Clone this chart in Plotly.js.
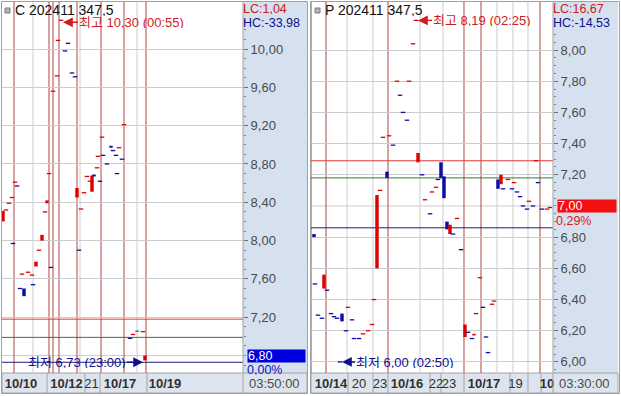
<!DOCTYPE html>
<html><head><meta charset="utf-8">
<script src="https://cdn.plot.ly/plotly-3.0.1.min.js"></script>
<style>html,body{margin:0;padding:0;background:#fff}#chart{width:621px;height:396px}</style>
</head><body><div id="chart"></div>
<script>
// ---------- Left panel: C 202411 347,5 ----------
const leftX     = [0.33,1.33,2.33,3.33,3.67,4.33,5.0,6.0,6.67,7.33,8.67,10.0,10.33,11.33,12.33,13.33,14.33,15.0,15.67,16.33,17.0,18.33,18.67,19.67,21.0,22.0,23.33,24.33,25.0,25.67,26.33,27.33,28.33,29.33,30.0,30.67,31.67,32.0,32.67,33.33,33.67,35.0,36.33,37.0,38.0,38.33,39.0,40.0,40.67,42.67,43.67,45.0,47.0,47.67];
const leftOpen  = [8.20,8.32,8.39,8.45,7.97,8.61,8.57,7.50,7.65,7.50,7.67,7.64,7.54,7.73,7.90,8.00,8.30,8.39,8.70,7.72,9.56,9.72,10.09,10.30,9.98,10.06,9.75,9.71,8.45,7.90,8.33,8.50,8.67,8.62,8.51,8.69,8.76,8.88,8.62,9.08,8.89,8.80,8.99,8.94,8.89,8.70,8.97,8.85,9.21,6.98,7.02,7.06,7.05,6.75];
const leftClose = [8.31,8.32,8.39,8.45,7.97,8.61,8.57,7.50,7.65,7.42,7.67,7.64,7.54,7.78,7.90,8.06,8.30,8.42,8.70,7.72,9.56,9.72,10.09,10.30,9.98,10.06,9.75,9.71,8.55,7.90,8.33,8.50,8.67,8.62,8.68,8.67,8.76,8.88,8.62,9.08,8.89,8.80,8.97,8.94,8.89,8.70,8.97,8.85,9.21,6.98,7.02,7.05,7.05,6.80];
const leftDir   = [1,1,1,1,-1,1,-1,-1,1,-1,1,1,-1,1,1,1,1,1,1,-1,1,1,1,1,-1,-1,-1,-1,1,-1,1,1,1,1,1,-1,1,1,-1,1,-1,-1,-1,-1,-1,-1,1,-1,1,-1,1,-1,1,1];
const leftTickPos  = [6.33,21.5,29.83,39.33,54.33];
const leftTickText = ['<b>10/10</b>','<b>10/12</b>','21','<b>10/17</b>','<b>10/19</b>'];
const leftYTicks   = [7.2,7.6,8.0,8.4,8.8,9.2,9.6,10.0];
const leftHiddenGrid = [6.8];
const leftRedV  = [4,15.67,17,19,25,33,40.67,48];
const leftGridV = [10.33,26,45];
const leftSep   = [15,27.67,32.67,48.33];
const leftHLines = [7.18,6.99,6.73];

// ---------- Right panel: P 202411 347,5 ----------
const rightX     = [1.0,1.33,2.33,3.67,4.33,5.33,6.67,7.67,8.67,9.67,10.33,11.67,12.33,13.67,14.33,16.0,17.33,19.0,20.33,21.0,22.0,23.0,24.0,25.33,26.0,27.33,28.67,29.67,30.67,32.0,32.67,34.0,35.0,35.67,37.0,38.0,39.67,40.33,41.67,42.33,43.33,44.33,45.33,46.33,47.33,48.67,50.0,51.33,52.33,53.67,54.33,55.0,56.33,57.33,58.33,59.0,60.33,61.0,62.33,63.33,64.0,65.67,67.0,67.67,68.67,69.67,70.67,72.0,72.67,74.0,75.0,75.67,77.0,78.67,79.67];
const rightOpen  = [6.82,6.50,6.30,6.28,6.47,6.46,6.31,6.29,6.28,6.00,6.31,6.20,6.35,6.27,6.15,6.15,6.18,6.20,6.24,6.40,6.60,7.10,7.44,7.22,7.45,7.39,7.80,7.71,7.60,7.55,7.80,8.04,8.19,7.28,7.20,7.04,6.95,7.09,7.12,7.17,7.28,7.19,6.90,6.82,6.82,6.92,6.72,6.16,6.19,6.15,6.17,6.31,6.54,6.35,6.16,6.06,6.37,6.39,7.17,7.14,7.11,7.17,7.11,7.15,7.09,7.06,7.00,6.98,7.03,7.00,7.29,7.15,6.98,6.98,6.99];
const rightClose = [6.80,6.50,6.30,6.28,6.56,6.46,6.31,6.29,6.28,6.00,6.26,6.20,6.35,6.27,6.15,6.15,6.18,6.20,6.24,6.40,7.07,7.10,7.44,7.18,7.45,7.39,7.80,7.71,7.60,7.55,7.80,8.04,8.19,7.34,7.20,7.04,6.95,7.09,7.12,7.17,7.18,7.05,6.85,6.88,6.82,6.92,6.72,6.24,6.19,6.15,6.18,6.31,6.54,6.35,6.16,6.06,6.37,6.39,7.11,7.20,7.11,7.17,7.11,7.15,7.09,7.06,7.00,6.98,7.03,7.00,7.29,7.15,6.98,6.98,6.99];
const rightDir   = [-1,-1,-1,-1,1,-1,-1,-1,-1,-1,-1,-1,1,-1,-1,-1,1,1,1,1,1,1,1,-1,1,-1,1,-1,-1,-1,1,1,1,1,-1,1,-1,1,1,-1,-1,-1,-1,1,-1,1,-1,1,-1,-1,1,1,1,-1,-1,-1,1,1,-1,1,-1,1,-1,1,-1,-1,-1,-1,1,-1,1,-1,-1,1,1];
const rightTickPos  = [6.67,16,23,32,41.67,46,57.67,68.17,78.67];
const rightTickText = ['<b>10/14</b>','20','23','<b>10/16</b>','22','23','<b>10/17</b>','19','<b>10</b>'];
const rightYTicks   = [6.0,6.2,6.4,6.6,6.8,7.2,7.4,7.6,7.8,8.0];
const rightHiddenGrid = [7.0];
const rightRedV  = [0,5,25.67,51,56.67,76.33];
const rightGridV = [12,20.67,36.33,44,62,67.33,72.33];
const rightSep   = [12.33,20.67,25.67,39.67,43.33,51,66.33,72.33,76.67];
const rightHLines = [7.29,7.18,6.86];

const hLineColors = ['#e03a3a','#2f7d2f','#1c1c80'];
const UP = '#e00000', DOWN = '#0c0ca8', RED_V = '#b04444', GRID = '#cdcdcd';
const W = 621, H = 396;
const px = v => v / W, py = v => 1 - v / H;
const FONT = 'Liberation Sans, Arial, Noto Sans CJK KR, sans-serif';

function candleTraces(xs, os, cs, dirs, xa, ya) {
  const bx = [], bb = [], bh = [], bc = [], dx = [], dy = [], dc = [];
  xs.forEach((x, i) => {
    const col = dirs[i] > 0 ? UP : DOWN;
    if (os[i] !== cs[i]) { bx.push(x); bb.push(Math.min(os[i], cs[i])); bh.push(Math.abs(cs[i] - os[i])); bc.push(col); }
    else { dx.push(x); dy.push(cs[i]); dc.push(col); }
  });
  return [
    {type:'bar', x:bx, y:bh, base:bb, width:1.15, marker:{color:bc, line:{width:0}}, xaxis:xa, yaxis:ya, hoverinfo:'skip', showlegend:false},
    {type:'scatter', mode:'markers', x:dx, y:dy, marker:{symbol:'line-ew', size:3.2, color:dc, line:{width:1.3, color:dc}}, xaxis:xa, yaxis:ya, hoverinfo:'skip', showlegend:false, cliponaxis:false}
  ];
}

const data = [
  ...candleTraces(leftX, leftOpen, leftClose, leftDir, 'x', 'y'),
  ...candleTraces(rightX, rightOpen, rightClose, rightDir, 'x2', 'y2')
];

const shapes = [];
shapes.push({type:'rect', xref:'paper', yref:'paper', x0:px(243), x1:px(307), y0:py(373), y1:py(2), fillcolor:'#d5e1ef', line:{width:0}, layer:'below'});
shapes.push({type:'rect', xref:'paper', yref:'paper', x0:px(553), x1:px(618), y0:py(373), y1:py(2), fillcolor:'#d5e1ef', line:{width:0}, layer:'below'});
shapes.push({type:'rect', xref:'paper', yref:'paper', x0:px(2), x1:px(307), y0:py(393), y1:py(373), fillcolor:'#dde4ed', line:{width:1, color:'#a4a4a4'}, layer:'below'});
shapes.push({type:'rect', xref:'paper', yref:'paper', x0:px(311), x1:px(618), y0:py(393), y1:py(373), fillcolor:'#dde4ed', line:{width:1, color:'#a4a4a4'}, layer:'below'});

function addPanel(xa, ya, redV, gridV, sep, hl, hiddenGrid) {
  hiddenGrid.forEach(v => shapes.push({type:'line', xref:xa + ' domain', yref:ya, x0:0, x1:1, y0:v, y1:v, line:{color:GRID, width:1}, layer:'below'}));
  gridV.forEach(v => shapes.push({type:'line', xref:xa, yref:ya + ' domain', x0:v, x1:v, y0:0, y1:1, line:{color:GRID, width:1}, layer:'below'}));
  redV.forEach(v => shapes.push({type:'line', xref:xa, yref:ya + ' domain', x0:v, x1:v, y0:0, y1:1, line:{color:RED_V, width:1}, layer:'below'}));
  hl.forEach((v, i) => shapes.push({type:'line', xref:xa + ' domain', yref:ya, x0:0, x1:1, y0:v, y1:v, line:{color:hLineColors[i], width:1}, layer:'below'}));
  sep.forEach(v => shapes.push({type:'line', xref:xa, yref:'paper', x0:v, x1:v, y0:py(393), y1:py(373), line:{color:'#a4a4a4', width:1}, layer:'below'}));
}
addPanel('x', 'y', leftRedV, leftGridV, leftSep, leftHLines, leftHiddenGrid);
addPanel('x2', 'y2', rightRedV, rightGridV, rightSep, rightHLines, rightHiddenGrid);

[[1.5,307.5],[310.5,619.5]].forEach(([a,b]) => shapes.push({type:'rect', xref:'paper', yref:'paper', x0:px(a), x1:px(b), y0:py(393.5), y1:py(1.5), line:{color:'#a0a0a0', width:1}, fillcolor:'rgba(0,0,0,0)', layer:'above'}));
[243, 553].forEach(v => shapes.push({type:'line', xref:'paper', yref:'paper', x0:px(v), x1:px(v), y0:py(393), y1:py(2), line:{color:'#a4a4a4', width:1}, layer:'above'}));
[5, 315].forEach(v => shapes.push({type:'rect', xref:'paper', yref:'paper', x0:px(v), x1:px(v+5), y0:py(13), y1:py(8), fillcolor:'#b4b4b4', line:{color:'#7a7a7a', width:1}, layer:'above'}));

const tf = (size, color, bold) => ({family:FONT, size:size, color:color, weight: bold ? 'bold' : 'normal'});
const ann = [];
const txt = (t, x, y, color, size, anchor, h) => ann.push({text:t, xref:'paper', yref:'paper', x:px(x), y:py(y), xanchor:anchor || 'left', yanchor:'middle', showarrow:false, borderpad:0, height:h || 12, font:tf(size || 13, color)});
txt('C 202411 347,5', 14, 10, '#111', 14);
txt('P 202411 347,5', 324, 10, '#111', 14);
txt('LC:1,04', 242, 8.5, '#cc2020', 12.5, 'left', 11);
txt('HC:-33,98', 242, 22.5, '#10108a', 12.5, 'left', 11);
txt('LC:16,67', 552, 8.5, '#cc2020', 12.5, 'left', 11);
txt('HC:-14,53', 552, 22.5, '#10108a', 12.5, 'left', 11);
txt('03:50:00', 274, 383, '#4a4a4a', 13, 'center');
txt('03:30:00', 584, 383, '#4a4a4a', 13, 'center');
txt('0,00%', 246, 369, '#1010c0', 12.5, 'left', 11);
txt('0,29%', 555, 220, '#e01818', 12.5, 'left', 11);
ann.push({text:'6,80', xref:'paper', yref:'y', x:px(247), y:6.80, xanchor:'left', yanchor:'middle', showarrow:false, bgcolor:'#0000dc', width:57, height:12, align:'left', borderpad:0, font:tf(12.5, '#ffffff')});
ann.push({text:'7,00', xref:'paper', yref:'y2', x:px(557), y:7.00, xanchor:'left', yanchor:'middle', showarrow:false, bgcolor:'#f41010', width:58, height:12, align:'left', borderpad:0, font:tf(12.5, '#ffffff')});
const arrowAnn = (t, xa, ya, x, y, ax, color, ys) => ann.push({text:t, xref:xa, yref:ya, x:x, y:y, ax:ax, ay:0, yshift:ys || 0, xanchor: ax > 0 ? 'left' : 'right', yanchor:'middle', showarrow:true, arrowhead:2, arrowsize:1.4, arrowwidth:1.4, arrowcolor:color, standoff:2, borderpad:0, height:12, font:tf(13, color)});
arrowAnn('최고 10,30 (00:55)', 'x', 'y', 19.67, 10.30, 17, '#d01c1c', -2);
arrowAnn('최저 6,73 (23:00)', 'x', 'y', 47.67, 6.73, -18, '#10108a');
arrowAnn('최고 8,19 (02:25)', 'x2', 'y2', 35.0, 8.19, 16, '#d01c1c');
arrowAnn('최저 6,00 (02:50)', 'x2', 'y2', 9.67, 6.00, 15, '#10108a');

const yCommon = {side:'right', tickmode:'array', tickformat:'.2f', ticks:'outside', ticklen:4, tickcolor:'#707070', showgrid:true, gridcolor:GRID, zeroline:false, showline:false, tickfont:tf(13, '#4a4a4a'), fixedrange:true, domain:[py(373), py(2)]};
const xCommon = {showgrid:false, zeroline:false, showline:false, tickmode:'array', ticks:'', tickangle:0, ticklabelstandoff:1, tickfont:tf(13, '#303030'), fixedrange:true};

const layout = {
  width:W, height:H, margin:{l:0, r:0, t:0, b:0}, paper_bgcolor:'#ffffff', plot_bgcolor:'#ffffff',
  separators:', ', showlegend:false, barmode:'overlay', dragmode:false,
  xaxis: Object.assign({}, xCommon, {domain:[px(2), px(243)], range:[0, 80.33], anchor:'y', tickvals:leftTickPos, ticktext:leftTickText}),
  xaxis2: Object.assign({}, xCommon, {domain:[px(311), px(553)], range:[0, 80.67], anchor:'y2', tickvals:rightTickPos, ticktext:rightTickText}),
  yaxis: Object.assign({}, yCommon, {anchor:'x', range:[6.618, 10.491], tickvals:leftYTicks, minor:{tickmode:'linear', tick0:0, dtick:0.1, ticks:'outside', ticklen:2, tickcolor:'#808080', showgrid:false}}),
  yaxis2: Object.assign({}, yCommon, {anchor:'x2', range:[5.929, 8.308], tickvals:rightYTicks, minor:{tickmode:'linear', tick0:0, dtick:0.05, ticks:'outside', ticklen:2, tickcolor:'#808080', showgrid:false}}),
  shapes:shapes, annotations:ann
};
Plotly.newPlot('chart', data, layout, {staticPlot:true, displayModeBar:false});
</script></body></html>
